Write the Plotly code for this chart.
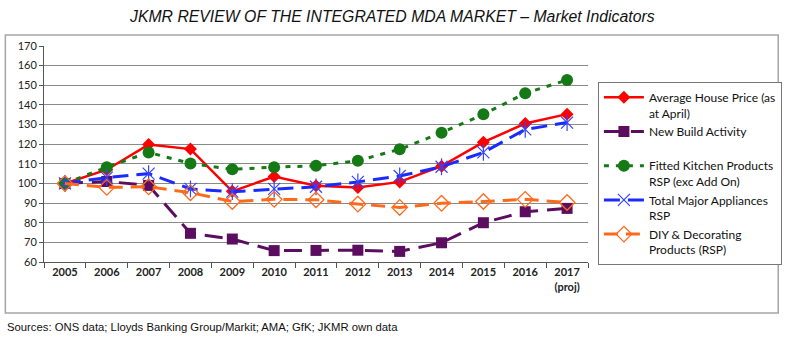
import plotly.graph_objects as go

years = ["2005", "2006", "2007", "2008", "2009", "2010", "2011", "2012", "2013", "2014", "2015", "2016", "2017"]
tick_text = ["<b>2005</b>", "<b>2006</b>", "<b>2007</b>", "<b>2008</b>", "<b>2009</b>", "<b>2010</b>",
             "<b>2011</b>", "<b>2012</b>", "<b>2013</b>", "<b>2014</b>", "<b>2015</b>", "<b>2016</b>",
             "<b>2017</b><br><b>(proj)</b>"]

house_price = [100, 107, 119.8, 117.5, 96, 103.5, 98.8, 98, 100.8, 108.8, 121, 130.5, 135.3]
new_build = [100, 101, 99, 74.6, 71.7, 65.8, 65.9, 66, 65.4, 69.8, 80, 85.6, 87.3]
fitted_kitchen = [100, 108.3, 115.8, 110.2, 107.2, 108.3, 109, 111.6, 117.4, 125.8, 135.2, 145.9, 152.7]
major_appl = [100, 103, 105, 97.2, 95.8, 97.2, 98.3, 100.8, 103.8, 108.5, 115.8, 127.5, 131]
diy = [100, 98, 98.3, 95.3, 90.8, 91.9, 91.7, 89.5, 87.8, 89.9, 90.8, 91.9, 90.3]

names = ["Average House Price (as<br>at April)",
         "New Build Activity<br> ",
         "Fitted Kitchen Products<br>RSP (exc Add On)",
         "Total Major Appliances<br>RSP",
         "DIY & Decorating<br>Products (RSP)"]

fig = go.Figure()

fig.add_trace(go.Scatter(x=years, y=house_price, name=names[0], mode="lines+markers",
                         line=dict(color="#FF0000", width=2.5),
                         marker=dict(symbol="diamond", size=10, color="#FF0000")))
fig.add_trace(go.Scatter(x=years, y=new_build, name=names[1], mode="lines+markers",
                         line=dict(color="#5B0E5F", width=3, dash="18px,9px"),
                         marker=dict(symbol="square", size=11, color="#5B0E5F")))
fig.add_trace(go.Scatter(x=years, y=fitted_kitchen, name=names[2], mode="lines+markers",
                         line=dict(color="#157A15", width=3, dash="5px,7px"),
                         marker=dict(symbol="circle", size=12, color="#157A15")))
fig.add_trace(go.Scatter(x=years, y=major_appl, name=names[3], mode="lines+markers",
                         line=dict(color="#1A2BFF", width=3, dash="16px,8px"),
                         marker=dict(symbol="x-thin-open", size=12, color="#3344FF",
                                     line=dict(color="#3344FF", width=1.2))))
fig.add_trace(go.Scatter(x=years, y=major_appl, showlegend=False, mode="markers", hoverinfo="skip",
                         marker=dict(symbol="line-ns-open", size=12, color="#3344FF",
                                     line=dict(color="#3344FF", width=1.2))))
fig.add_trace(go.Scatter(x=years, y=diy, name=names[4], mode="lines+markers",
                         line=dict(color="#FF6A1A", width=3, dash="14px,8px"),
                         marker=dict(symbol="diamond-open", size=12, color="#FF6A1A",
                                     line=dict(color="#FF6A1A", width=1.3))))

L, R, T, B = 44, 201, 46, 83
W, H = 794, 345
pw, ph = W - L - R, H - T - B


def px_x(x):
    return (x - L) / pw


def px_y(y):
    return (H - B - y) / ph


fig.update_layout(
    width=W, height=H,
    margin=dict(l=L, r=R, t=T, b=B),
    paper_bgcolor="white", plot_bgcolor="white",
    font=dict(family="Lato, Carlito, sans-serif", size=11, color="#222"),
    showlegend=True,
    legend=dict(x=px_x(603), y=px_y(82), xanchor="left", yanchor="top",
                bordercolor="#777", borderwidth=1, bgcolor="white",
                font=dict(family="Lato, Carlito, sans-serif", size=12, color="#111"),
                valign="top", tracegroupgap=0, itemwidth=40),
    xaxis=dict(tickvals=years, ticktext=tick_text, tickmode="array",
               showline=True, linecolor="#555", linewidth=1,
               ticks="outside", ticklen=5, tickcolor="#555", tickson="boundaries",
               showgrid=False, zeroline=False, range=[-0.5, 12.5],
               tickfont=dict(family="Lato, Carlito, sans-serif", size=11, color="#222")),
    yaxis=dict(range=[60, 170], dtick=10, tick0=60,
               showline=True, linecolor="#555", linewidth=1,
               ticks="outside", ticklen=4, tickcolor="#555",
               showgrid=True, gridcolor="#8a8a8a", gridwidth=1, zeroline=False,
               tickfont=dict(family="Lato, Carlito, sans-serif", size=11, color="#222")),
)

fig.add_shape(type="rect", xref="paper", yref="paper",
              x0=px_x(5), x1=px_x(785), y0=px_y(313), y1=px_y(35),
              line=dict(color="#a6a6a6", width=1.5), layer="below")

fig.add_annotation(text="<i>JKMR REVIEW OF THE INTEGRATED MDA MARKET – Market Indicators</i>",
                   xref="paper", yref="paper", x=px_x(395), y=px_y(16),
                   xanchor="center", yanchor="middle", showarrow=False,
                   font=dict(family="Liberation Sans, Arial", size=15.8, color="#111"))

fig.add_annotation(text="Sources: ONS data; Lloyds Banking Group/Markit; AMA; GfK; JKMR own data",
                   xref="paper", yref="paper", x=px_x(5), y=px_y(327),
                   xanchor="left", yanchor="middle", showarrow=False,
                   font=dict(family="Liberation Sans, Arial", size=11.3, color="#111"))

fig.write_html("out.html")
